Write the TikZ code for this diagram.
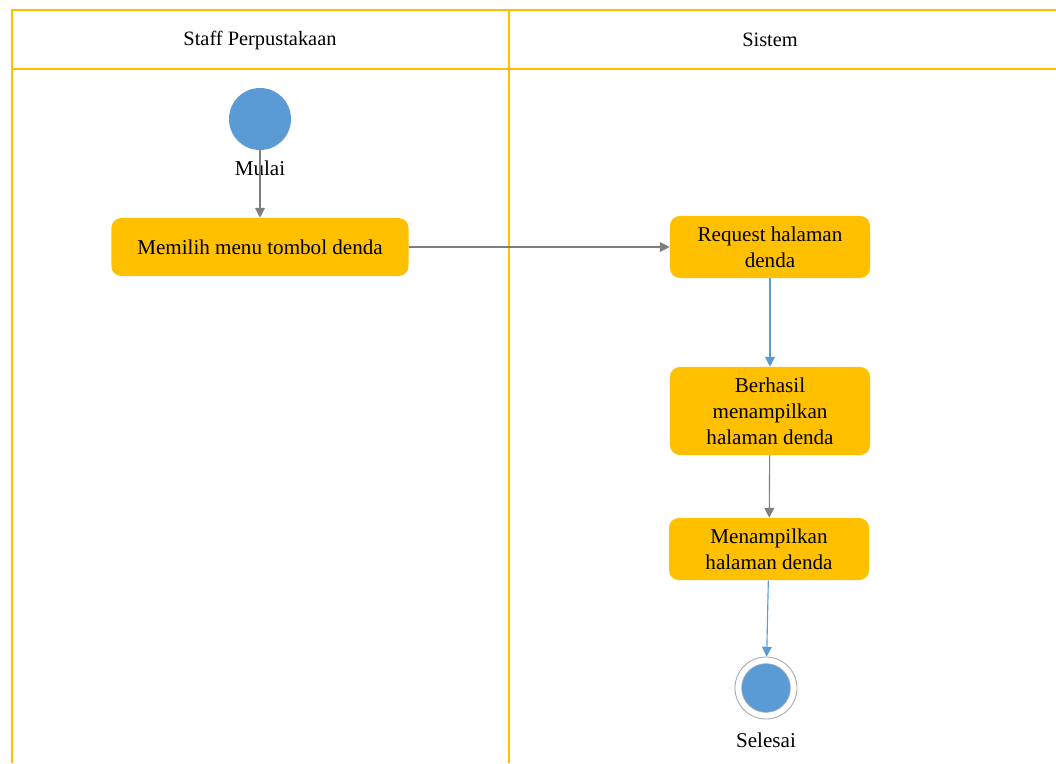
\documentclass[tikz,border=0pt]{standalone}
\usepackage{fontspec}
\setmainfont{Liberation Serif}
\usetikzlibrary{arrows.meta,positioning}
\definecolor{laneyellow}{HTML}{FFC000}
\definecolor{actfill}{HTML}{FFC000}
\definecolor{dotblue}{HTML}{5B9BD5}
\definecolor{flowgray}{HTML}{7F7F7F}
\tikzset{
	lane/.style={draw=laneyellow,line width=1pt},
	head/.style={font=\fontsize{14.5}{17}\selectfont},
	act/.style={rectangle,rounded corners=7pt,fill=actfill,align=center,minimum width=5cm,minimum height=1.55cm,inner sep=2pt,font=\fontsize{15}{18.4}\selectfont},
	lbl/.style={font=\fontsize{15}{18}\selectfont,inner sep=0pt},
	startdot/.style={circle,fill=dotblue,minimum size=1.55cm,inner sep=0pt},
	endring/.style={circle,draw=gray!70,line width=0.6pt,fill=white,minimum size=1.55cm,inner sep=0pt},
	endcore/.style={circle,draw=gray!60,line width=0.4pt,fill=dotblue,minimum size=1.22cm,inner sep=0pt},
	-g/.style={draw=flowgray,line width=0.8pt,-{Triangle[length=7pt,width=7pt]}},
	-b/.style={draw=dotblue,line width=0.8pt,-{Triangle[length=7pt,width=7pt]}}
}

\begin{document}
\begin{tikzpicture}[x=0.025cm,y=-0.025cm]
			\useasboundingbox (0,0) rectangle (1056,763);
			
			% swimlanes
			\draw[lane] (12,763) -- (12,10) -- (1056,10);
			\draw[lane] (12,69) -- (1056,69);
			\draw[lane] (509,10) -- (509,763);
			\node[head] (hstaff) at (260,40) {Staff Perpustakaan};
			\node[head] (hsistem) at (770,40) {Sistem};
			
			\node[startdot] (mulai) at (260,119) {};
			\node[lbl] (mulailbl) at (260,168) {Mulai};
			
			\node[act,minimum width=7.425cm,minimum height=1.45cm] (pilih) at (260,247) {Memilih menu tombol denda};
			
			\node[act] (req) at (770,247) {Request halaman\\denda};
			\node[act,minimum height=2.2cm] (hasil) at (770,411) {Berhasil\\menampilkan\\halaman denda};
			\node[act] (tampil) at (769,549) {Menampilkan\\halaman denda};
			
			\node[endring] (selesai) at (766,688) {}; % final state
			\node[endcore] (selesaicore) at (selesai) {};
			\node[lbl] (selesailbl) at (766,740) {Selesai};
			
			\draw[-g] (mulai) -- (pilih);
			\draw[-g] (pilih) -- (req);
			\draw[-b] (req) -- (hasil);
			\draw[-g] (hasil) -- (tampil);
			\draw[-b] (tampil) -- (selesai);
		\end{tikzpicture}
\end{document}
